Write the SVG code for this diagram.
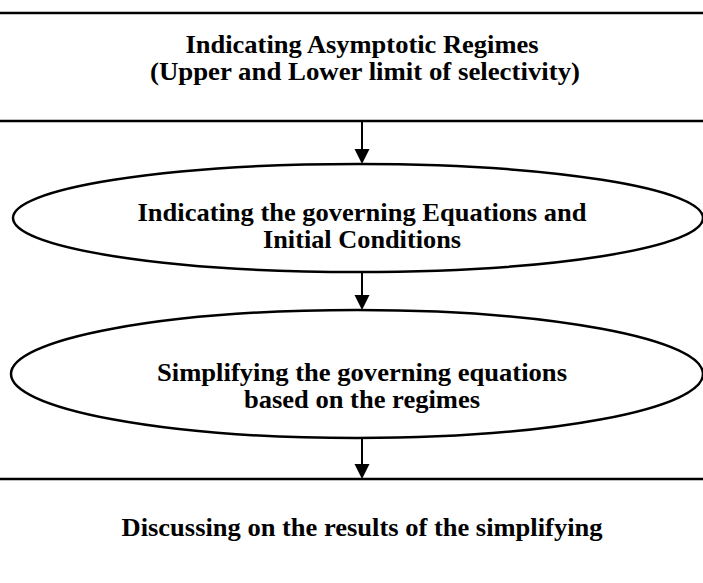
<svg xmlns="http://www.w3.org/2000/svg" width="703" height="583" viewBox="0 0 703 583">
<defs>
<style>
.shape{fill:#fff;stroke:#000;stroke-width:2.5}
.t{font-family:"Liberation Serif","Times New Roman",serif;font-weight:bold;font-size:26px;fill:#000;text-anchor:middle}
.c{stroke:#000;stroke-width:2;fill:none}
.ah{fill:#000}
</style>
</defs>
<rect width="703" height="583" fill="#fff"/>
<g id="connectors">
<line class="c" x1="362" y1="122" x2="362" y2="150"/>
<path class="ah" d="M354.5,149 L369.5,149 L362,164 Z"/>
<line class="c" x1="362" y1="272" x2="362" y2="296"/>
<path class="ah" d="M354.5,295 L369.5,295 L362,310 Z"/>
<line class="c" x1="362" y1="438" x2="362" y2="465"/>
<path class="ah" d="M354.5,464 L369.5,464 L362,479 Z"/>
</g>
<g id="node1">
<rect class="shape" x="-20" y="13" width="743" height="108" rx="10"/>
<text class="t" x="362" y="53" textLength="353" lengthAdjust="spacingAndGlyphs">Indicating Asymptotic Regimes</text>
<text class="t" x="365" y="80" textLength="430" lengthAdjust="spacingAndGlyphs">(Upper and Lower limit of selectivity)</text>
</g>
<g id="node2">
<ellipse class="shape" cx="358" cy="218" rx="345" ry="54"/>
<text class="t" x="362" y="221" textLength="449" lengthAdjust="spacingAndGlyphs">Indicating the governing Equations and</text>
<text class="t" x="362" y="248" textLength="198" lengthAdjust="spacingAndGlyphs">Initial Conditions</text>
</g>
<g id="node3">
<ellipse class="shape" cx="357" cy="374" rx="346" ry="64"/>
<text class="t" x="362" y="381" textLength="410" lengthAdjust="spacingAndGlyphs">Simplifying the governing equations</text>
<text class="t" x="362" y="408" textLength="236" lengthAdjust="spacingAndGlyphs">based on the regimes</text>
</g>
<g id="node4">
<rect class="shape" x="-20" y="479" width="743" height="130" rx="10"/>
<text class="t" x="362" y="536" textLength="481" lengthAdjust="spacingAndGlyphs">Discussing on the results of the simplifying</text>
</g>
</svg>
